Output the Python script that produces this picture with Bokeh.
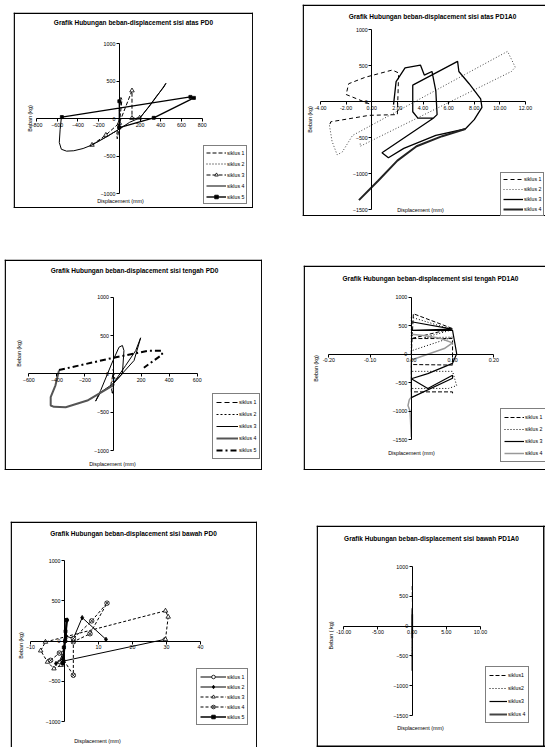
import math
from bokeh.plotting import figure
from bokeh.models import (Range1d, LinearAxis, FixedTicker, PrintfTickFormatter,
                          Label, Legend, LegendItem, Span, Spacer)
from bokeh.layouts import row, column
from bokeh.embed import file_html
from bokeh.resources import INLINE

FONT = "Liberation Sans"

# ---------------------------------------------------------------- data
# Panel 1 : sisi atas PD0
ATAS_PD0_XTICKS = [-800, -600, -400, -200, 0, 200, 400, 600, 800]
ATAS_PD0_YTICKS = [-1000, -500, 0, 500, 1000]
ATAS_PD0_S1_X = [0, -15, -25, -20, -5, 10, 25, 15, 0]
ATAS_PD0_S1_Y = [0, -120, -220, -270, -150, 60, 250, 280, 100]
ATAS_PD0_S2_X = [-10, -60, -150, -280, -230, -120, -20, 0]
ATAS_PD0_S2_Y = [-150, -190, -260, -370, -320, -240, -160, -60]
ATAS_PD0_S3_X = [-264, -130, 0, 122, 122, 196]
ATAS_PD0_S3_Y = [-353, -220, -60, 372, 5, 9]
ATAS_PD0_S4_X = [-560, -572, -580, -560, -510, -440, -350, -264, -130, 0, 100, 200, 300, 390, 450, 430, 360, 280, 200]
ATAS_PD0_S4_Y = [10, -150, -320, -410, -435, -430, -400, -353, -250, -140, -50, 10, 180, 350, 470, 420, 300, 150, 10]
ATAS_PD0_S5_X = [0, 0, 332, 720, 686, -555]
ATAS_PD0_S5_Y = [230, -121, 9, 275, 288, 19]

# Panel 2 : sisi atas PD1A0
ATAS_PD1_XTICKS = [-4, -2, 0, 2, 4, 6, 8, 10, 12]
ATAS_PD1_YTICKS = [-1500, -1000, -500, 0, 500, 1000]
ATAS_PD1_S1_X = [-0.2, -2.0, -1.8, -0.5, 1.6, 2.1, 2.0, -0.2, -3.2, -3.3]
ATAS_PD1_S1_Y = [-30, 100, 250, 340, 440, 400, -180, -190, -280, -330]
ATAS_PD1_S2_X = [-3.3, -3.1, -2.7, -2.3, -1.5, 10.6, 11.2, 10.9, -0.9, -0.9]
ATAS_PD1_S2_Y = [-330, -550, -740, -700, -470, 700, 480, 420, -620, -560]
ATAS_PD1_S3_X = [1.7, 1.9, 2.6, 3.8, 4.1, 4.7, 5.0, 5.1, 4.8, 3.6, 3.2, 3.2, 6.7, 6.8, 7.6, 8.5, 8.6, 8.0, 7.3, 5.0, 2.5, 1.3, 0.8, 4.8]
ATAS_PD1_S3_Y = [-40, 280, 470, 510, 370, 420, 150, -180, -230, -230, -140, 230, 560, 420, 250, 40, -80, -250, -380, -470, -650, -780, -710, -230]
ATAS_PD1_S4_X = [7.3, 5.5, 3.5, 2.0, 0.5, -1.0]
ATAS_PD1_S4_Y = [-380, -480, -620, -820, -1100, -1370]

# Panel 3 : sisi tengah PD0
TENGAH_PD0_XTICKS = [-600, -400, -200, 0, 200, 400, 600]
TENGAH_PD0_YTICKS = [-1000, -500, 0, 500, 1000]
TENGAH_PD0_S1_X = [0, -15, -5, 10]
TENGAH_PD0_S1_Y = [0, -140, -250, -100]
TENGAH_PD0_S2_X = [0, 15, -10, 0]
TENGAH_PD0_S2_Y = [60, -80, -200, -260]
TENGAH_PD0_S3_X = [-124, -88, 0, 43, 67, 78, 67, 0, 150, 197, 162, 90, 0, -88, -124]
TENGAH_PD0_S3_Y = [-356, -217, 174, 348, 370, 304, 0, -130, 174, 470, 304, 109, -130, -240, -356]
TENGAH_PD0_S4_X = [0, -183, -337, -420, -444, -444, -410, -385]
TENGAH_PD0_S4_Y = [-150, -348, -435, -430, -413, -304, -150, 43]
TENGAH_PD0_S5_X = [-385, -20, 245, 350, 350, 220]
TENGAH_PD0_S5_Y = [50, 200, 300, 300, 250, 80]

# Panel 4 : sisi tengah PD1A0
TENGAH_PD1_XTICKS = [-0.2, -0.1, 0.0, 0.1, 0.2]
TENGAH_PD1_YTICKS = [-1500, -1000, -500, 0, 500, 1000]
TENGAH_PD1_S1_X = [0.0, 0.005, 0.10, 0.0, 0.10, 0.10, 0.0, 0.0, 0.10, 0.10]
TENGAH_PD1_S1_Y = [0, 710, 450, 275, 275, -190, -180, -660, -660, -720]
TENGAH_PD1_S2_X = [0.0, 0.0, 0.10, 0.03, 0.10, 0.0, 0.0, 0.10, 0.11, 0.09, 0.0]
TENGAH_PD1_S2_Y = [0, 650, 430, 290, 300, 60, -300, -300, -550, -600, -600]
TENGAH_PD1_S3_X = [0.0, 0.10, 0.0, 0.10, 0.11, 0.10, 0.04, 0.0, 0.04, 0.10, 0.10, 0.0]
TENGAH_PD1_S3_Y = [570, 440, 420, 420, 10, -160, -340, -430, -600, -370, -420, -760]
TENGAH_PD1_S4_X = [0.0, 0.03, 0.07, 0.10, 0.08, 0.04, 0.0, 0.0, -0.005, -0.008, -0.003, 0.0]
TENGAH_PD1_S4_Y = [350, 330, 280, 200, 100, 0, -100, -750, -800, -900, -1000, -1450]

# Panel 5 : sisi bawah PD0
BAWAH_PD0_XTICKS = [-10, 0, 10, 20, 30, 40]
BAWAH_PD0_YTICKS = [-1000, -500, 0, 500, 1000]
BAWAH_PD0_S1_X = [0.5, 0.2, -0.5, -1.5, 29.5]
BAWAH_PD0_S1_Y = [260, 0, -150, -260, 20]
BAWAH_PD0_S2_X = [-2.5, -0.5, 0.3, 0.8, 0.5, 2.6, 5.2, 12.2]
BAWAH_PD0_S2_Y = [-280, -220, 30, 260, 60, 30, 290, 20]
BAWAH_PD0_S3_X = [29.7, 30.5, 29.7, -5.6, -7.0, -5.0, -3.1, -1.0]
BAWAH_PD0_S3_Y = [20, 300, 375, -12, -120, -260, -343, -300]
BAWAH_PD0_S4_X = [-4.1, -1.5, 2.6, 2.6, 7.5, 12.5, 8.0, 2.6]
BAWAH_PD0_S4_Y = [-240, -150, -426, -10, 90, 470, 250, 30]
BAWAH_PD0_S5_X = [-0.5, -0.2, 0.3, 0.6, 0.2, -0.3]
BAWAH_PD0_S5_Y = [-280, -80, 120, 260, 0, -250]

# Panel 6 : sisi bawah PD1A0
BAWAH_PD1_XTICKS = [-10, -5, 0, 5, 10]
BAWAH_PD1_YTICKS = [-1500, -1000, -500, 0, 500, 1000]
BAWAH_PD1_S1_X = [0.0, 0.05, 0.0]
BAWAH_PD1_S1_Y = [0, 350, 700]
BAWAH_PD1_S2_X = [0.0, 0.05, 0.0]
BAWAH_PD1_S2_Y = [0, -300, -550]
BAWAH_PD1_S3_X = [0.0, 0.0]
BAWAH_PD1_S3_Y = [300, -750]
BAWAH_PD1_S4_X = [0.0, 0.0]
BAWAH_PD1_S4_Y = [-200, 200]


# ---------------------------------------------------------------- helpers
class Panel:
    """One Excel-like chart. Geometry is given in page pixels."""

    def __init__(self, box, xcal, ycal):
        self.L, self.T, self.R, self.B = box
        W = self.R - self.L
        H = self.B - self.T
        (xa, pa), (xb, pb) = xcal
        self.sx = (pb - pa) / (xb - xa)
        self.x0 = xa - (pa - self.L) / self.sx
        (ya, qa), (yb, qb) = ycal
        self.sy = (qb - qa) / (ya - yb)
        self.ytop = ya + (qa - self.T) / self.sy
        self.p = figure(width=W, height=H,
                        x_range=Range1d(self.x0, self.x0 + W / self.sx),
                        y_range=Range1d(self.ytop - H / self.sy, self.ytop),
                        x_axis_type=None, y_axis_type=None, title=None,
                        toolbar_location=None, output_backend="svg",
                        min_border=0, outline_line_color=None,
                        background_fill_color="white", border_fill_color="white")

    def X(self, px):
        return self.x0 + (px - self.L) / self.sx

    def Y(self, py):
        return self.ytop - (py - self.T) / self.sy

    def axes(self, xticks, yticks, fmt=None):
        for side, ticks in (("below", xticks), ("left", yticks)):
            ax = LinearAxis(fixed_location=0, bounds=(ticks[0], ticks[-1]),
                            ticker=FixedTicker(ticks=ticks, minor_ticks=[]),
                            axis_line_color="black", axis_line_width=1,
                            major_tick_line_color="black", major_tick_in=0, major_tick_out=3,
                            minor_tick_in=0, minor_tick_out=0,
                            major_label_text_font=FONT, major_label_text_font_size="5.3px",
                            major_label_text_color="black", major_label_standoff=1)
            if side == "below" and fmt:
                ax.formatter = PrintfTickFormatter(format=fmt)
            self.p.add_layout(ax, side)

    def text(self, px, py, s, size="5.4px", bold=False, angle=0.0):
        self.p.add_layout(Label(x=self.X(px), y=self.Y(py), text=s,
                                text_align="center", text_baseline="middle",
                                text_font=FONT, text_font_size=size,
                                text_font_style="bold" if bold else "normal",
                                text_color="black", angle=angle))

    def border(self, left=None, right=None, top=None, bottom=None):
        """Chart-area frame drawn as spans; None page position = side not shown."""
        for pos, dim, conv in ((left, "height", self.X), (right, "height", self.X),
                               (top, "width", self.Y), (bottom, "width", self.Y)):
            if pos is not None:
                self.p.add_layout(Span(location=conv(pos), dimension=dim,
                                       line_color="black", line_width=1.4))

    def series(self, xs, ys, color="black", width=1.0, dash="solid",
               marker=None, msize=4, mfill="black"):
        rs = [self.p.line(xs, ys, line_color=color, line_width=width, line_dash=dash)]
        if marker:
            rs.append(self.p.scatter(xs, ys, marker=marker, size=msize,
                                     fill_color=mfill, line_color=color, line_width=0.8))
        return rs

    def legend(self, left, top, labels, groups, lh, spacing, padding, gw):
        n = len(labels)
        height = n * lh + (n - 1) * spacing + 2 * padding
        items = [LegendItem(label=l, renderers=g) for l, g in zip(labels, groups)]
        lg = Legend(items=items, location=(left - self.L, self.B - (top + height)),
                    orientation="vertical", margin=0, padding=padding, spacing=spacing,
                    label_height=lh, glyph_height=lh, glyph_width=gw, label_width=10,
                    label_standoff=1, label_text_font=FONT, label_text_font_size="5.2px",
                    label_text_color="black", border_line_color="black",
                    border_line_width=1, background_fill_color="white",
                    background_fill_alpha=1)
        self.p.add_layout(lg, "center")


# ---------------------------------------------------------------- panel 1
a = Panel((13, 12, 253, 208), ((-800, 36), (800, 201.7)), ((1000, 43), (-1000, 193)))
g1 = a.series(ATAS_PD0_S1_X, ATAS_PD0_S1_Y, dash="4 2")
g2 = a.series(ATAS_PD0_S2_X, ATAS_PD0_S2_Y, dash="1 2")
g3 = a.series(ATAS_PD0_S3_X, ATAS_PD0_S3_Y, dash="4 2", marker="triangle", msize=4.5, mfill="white")
g4 = a.series(ATAS_PD0_S4_X, ATAS_PD0_S4_Y)
g5 = a.series(ATAS_PD0_S5_X, ATAS_PD0_S5_Y, width=1.4, marker="square", msize=3)
a.axes(ATAS_PD0_XTICKS, ATAS_PD0_YTICKS)
a.text(133, 21.5, "Grafik Hubungan beban-displacement sisi atas PD0", size="6.5px", bold=True)
a.text(29, 118, "Beban (kg)", angle=math.pi / 2)
a.text(120, 200, "Displacement (mm)")
a.legend(203, 147, ["siklus 1", "siklus 2", "siklus 3", "siklus 4", "siklus 5"],
         [g1, g2, g3, g4, g5], lh=9, spacing=2, padding=2, gw=20)
a.border(left=13.75, right=252.25, top=12.75, bottom=207.25)

# ---------------------------------------------------------------- panel 2
b = Panel((302, 4, 545, 216), ((-4, 320), (12, 525)), ((1000, 29.3), (-1500, 209)))
h1 = b.series(ATAS_PD1_S1_X, ATAS_PD1_S1_Y, dash="4 3")
h2 = b.series(ATAS_PD1_S2_X, ATAS_PD1_S2_Y, color="#444444", dash="1 2")
h3 = b.series(ATAS_PD1_S3_X, ATAS_PD1_S3_Y, width=1.3)
h4 = b.series(ATAS_PD1_S4_X, ATAS_PD1_S4_Y, color="#222222", width=2)
b.axes(ATAS_PD1_XTICKS, ATAS_PD1_YTICKS, fmt="%.2f")
b.text(432, 15.5, "Grafik Hubungan beban-displacement sisi atas PD1A0", size="6.5px", bold=True)
b.text(309, 119, "Beban (kg)", angle=math.pi / 2)
b.text(420, 209, "Displacement (mm)")
b.legend(500, 174, ["siklus 1", "siklus 2", "siklus 3", "siklus 4"],
         [h1, h2, h3, h4], lh=8, spacing=2, padding=2, gw=20)
b.border(left=302.75, top=4.75, bottom=215.25)

# ---------------------------------------------------------------- panel 3
c = Panel((4, 259, 262, 470), ((-600, 28.3), (600, 196.7)), ((1000, 296.7), (-1000, 450)))
k1 = c.series(TENGAH_PD0_S1_X, TENGAH_PD0_S1_Y, dash="5 3")
k2 = c.series(TENGAH_PD0_S2_X, TENGAH_PD0_S2_Y, dash="2 2")
k3 = c.series(TENGAH_PD0_S3_X, TENGAH_PD0_S3_Y)
k4 = c.series(TENGAH_PD0_S4_X, TENGAH_PD0_S4_Y, color="#555555", width=2)
k5 = c.series(TENGAH_PD0_S5_X, TENGAH_PD0_S5_Y, width=2, dash="6 3 2 3")
c.axes(TENGAH_PD0_XTICKS, TENGAH_PD0_YTICKS)
c.text(134, 269.5, "Grafik Hubungan beban-displacement sisi tengah PD0", size="6.5px", bold=True)
c.text(18, 353, "Beban (kg)", angle=math.pi / 2)
c.text(112, 463, "Displacement (mm)")
c.legend(212, 395, ["siklus 1", "siklus 2", "siklus 3", "siklus 4", "siklus 5"],
         [k1, k2, k3, k4, k5], lh=10, spacing=2, padding=3, gw=22)
c.border(left=4.75, right=261.25, top=259.75, bottom=469.25)

# ---------------------------------------------------------------- panel 4
d = Panel((303, 265, 545, 470), ((-0.2, 328.3), (0.2, 493.3)), ((1000, 296.7), (-1500, 439.3)))
m1 = d.series(TENGAH_PD1_S1_X, TENGAH_PD1_S1_Y, dash="4 2")
m2 = d.series(TENGAH_PD1_S2_X, TENGAH_PD1_S2_Y, dash="1 2")
m3 = d.series(TENGAH_PD1_S3_X, TENGAH_PD1_S3_Y, width=1.2)
m4 = d.series(TENGAH_PD1_S4_X, TENGAH_PD1_S4_Y, color="#999999", width=1.5)
d.axes(TENGAH_PD1_XTICKS, TENGAH_PD1_YTICKS, fmt="%.2f")
d.text(430, 278, "Grafik Hubungan beban-displacement sisi tengah PD1A0", size="6.5px", bold=True)
d.text(315, 368, "Beban (kg)", angle=math.pi / 2)
d.text(411, 452, "Displacement (mm)")
d.legend(500, 410, ["siklus 1", "siklus 2", "siklus 3", "siklus 4"],
         [m1, m2, m3, m4], lh=10, spacing=2, padding=3, gw=20)
d.border(left=303.75, top=265.75, bottom=469.25)

# ---------------------------------------------------------------- panel 5
e = Panel((10, 521, 257, 747), ((-10, 30), (40, 200)), ((1000, 560), (-1000, 721)))
n1 = e.series(BAWAH_PD0_S1_X, BAWAH_PD0_S1_Y, marker="circle", msize=3.5, mfill="white")
n2 = e.series(BAWAH_PD0_S2_X, BAWAH_PD0_S2_Y, marker="diamond", msize=4.5)
n3 = e.series(BAWAH_PD0_S3_X, BAWAH_PD0_S3_Y, dash="3 2", marker="triangle", msize=4.5, mfill="white")
n4 = e.series(BAWAH_PD0_S4_X, BAWAH_PD0_S4_Y, dash="3 2", marker="circle_x", msize=4.5, mfill="white")
n5 = e.series(BAWAH_PD0_S5_X, BAWAH_PD0_S5_Y, width=1.5, marker="square", msize=3)
e.axes(BAWAH_PD0_XTICKS, BAWAH_PD0_YTICKS)
e.text(133, 532.5, "Grafik Hubungan beban-displacement sisi bawah PD0", size="6.5px", bold=True)
e.text(20.7, 645, "Beban (kg)", angle=math.pi / 2)
e.text(97, 740, "Displacement (mm)")
e.legend(196, 670, ["siklus 1", "siklus 2", "siklus 3", "siklus 4", "siklus 5"],
         [n1, n2, n3, n4, n5], lh=9, spacing=1, padding=3, gw=26)
e.border(left=10.75, right=256.25, top=521.75)

# ---------------------------------------------------------------- panel 6
f = Panel((316, 525, 545, 747), ((-10, 343.3), (10, 480)), ((1000, 566), (-1500, 715)))
q1 = f.series(BAWAH_PD1_S1_X, BAWAH_PD1_S1_Y, dash="4 2")
q2 = f.series(BAWAH_PD1_S2_X, BAWAH_PD1_S2_Y, dash="1 2")
q3 = f.series(BAWAH_PD1_S3_X, BAWAH_PD1_S3_Y, width=1.2)
q4 = f.series(BAWAH_PD1_S4_X, BAWAH_PD1_S4_Y, color="#444444", width=2)
f.axes(BAWAH_PD1_XTICKS, BAWAH_PD1_YTICKS, fmt="%.2f")
f.text(431, 538, "Grafik Hubungan beban-displacement sisi bawah PD1A0", size="6.5px", bold=True)
f.text(330, 635, "Beban ( kg)", angle=math.pi / 2)
f.text(420, 727, "Displacement (mm)")
f.legend(485, 668, ["siklus1", "siklus2", "siklus3", "siklus 4"],
         [q1, q2, q3, q4], lh=10, spacing=3, padding=3, gw=18)
f.border(left=316.75, right=543.25, top=525.75, bottom=745.75)

# ---------------------------------------------------------------- layout
row1 = row(Spacer(width=13, height=1), column(Spacer(width=1, height=12), a.p),
           Spacer(width=49, height=1), column(Spacer(width=1, height=4), b.p))
row2 = row(Spacer(width=4, height=1), column(Spacer(width=1, height=43), c.p),
           Spacer(width=41, height=1), column(Spacer(width=1, height=49), d.p))
row3 = row(Spacer(width=10, height=1), column(Spacer(width=1, height=51), e.p),
           Spacer(width=59, height=1), column(Spacer(width=1, height=55), f.p))
page = column(row1, row2, row3)

open("out.html", "w").write(file_html(page, INLINE))
